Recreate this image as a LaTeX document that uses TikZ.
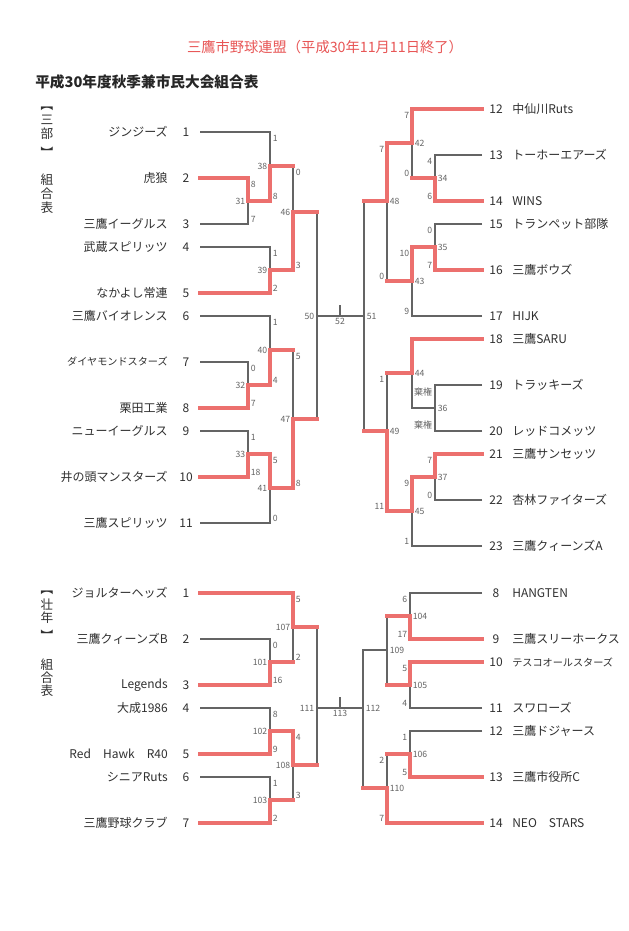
\documentclass[tikz,border=0pt]{standalone}
\usepackage{fontspec}
\setmainfont{Noto Sans CJK JP}
\usepackage{tikz}
\pgfdeclarelayer{bg}
\pgfsetlayers{bg,main}
\definecolor{winred}{RGB}{236,112,110}
\definecolor{titlered}{RGB}{232,86,86}
\definecolor{linegray}{RGB}{100,100,100}
\definecolor{inkgray}{RGB}{48,48,48}
\tikzset{
  elbow/.style={to path={-| (\tikztotarget)}},
  lose/.style={elbow, draw=linegray, line width=0.8pt},
  win/.style={elbow, draw=winred, line width=2.3pt, line cap=rect},
  adv/.style={to path={-- (\tikztotarget |- \tikztostart)}, draw=winred, line width=2.3pt, line cap=rect},
  teaml/.style={anchor=east, inner sep=0pt, text=inkgray, font=\fontsize{9}{10}\selectfont},
  teamr/.style={anchor=west, inner sep=0pt, text=inkgray, font=\fontsize{9}{10}\selectfont},
  smallname/.style={font=\fontsize{7.6}{9}\selectfont},
  num/.style={inner sep=0pt, text=inkgray, font=\fontsize{9}{10}\selectfont},
  ptl/.style={anchor=west, inner sep=0pt, xshift=1.9pt, text=linegray, font=\fontsize{6.5}{7}\selectfont},
  ptr/.style={anchor=east, inner sep=0pt, xshift=-1.9pt, text=linegray, font=\fontsize{6.5}{7}\selectfont},
  gml/.style={anchor=east, inner sep=0pt, xshift=-1.9pt, text=linegray, font=\fontsize{6.5}{7}\selectfont},
  gmr/.style={anchor=west, inner sep=0pt, xshift=1.9pt, text=linegray, font=\fontsize{6.5}{7}\selectfont},
  gmb/.style={anchor=north, inner sep=0pt, text=linegray, font=\fontsize{6.5}{7}\selectfont},
  vlab/.style={align=center, inner sep=0pt, text=inkgray},
  vbrk/.style={inner sep=0pt, rotate=-90, text=inkgray, font=\fontsize{9.5}{10}\selectfont},
}

\begin{document}
\begin{tikzpicture}[x=0.75pt, y=-0.75pt]
        \useasboundingbox (0,0) rectangle (628,931);
        % headings
        \node (title) [text=titlered, font=\fontsize{10.7}{12}\selectfont] at (325,47) {三鷹市野球連盟（平成30年11月11日終了）};
        \node (subtitle) [anchor=west, inner sep=0pt, text=black!85, font=\bfseries\fontsize{11}{12}\selectfont] at (35,82) {平成30年度秋季兼市民大会組合表};
        \node (br1) [vbrk] at (47,105) {【};
        \node (sec1) [vlab, font=\fontsize{9.5}{10.5}\selectfont] at (47,127) {三\\部};
        \node (br2) [vbrk] at (47,153) {】};
        \node (sec1b) [vlab, font=\fontsize{9.5}{10.5}\selectfont] at (47,194) {組\\合\\表};
        \node (br3) [vbrk] at (47,589) {【};
        \node (sec2) [vlab, font=\fontsize{9.5}{9.75}\selectfont] at (47,611.5) {壮\\年};
        \node (br4) [vbrk] at (47,636) {】};
        \node (sec2b) [vlab, font=\fontsize{9.5}{9.75}\selectfont] at (47,678) {組\\合\\表};

        % teams, left top
        \coordinate (a1) at (200,132);
        \coordinate (a2) at (200,178);
        \coordinate (a3) at (200,224);
        \coordinate (a4) at (200,247);
        \coordinate (a5) at (200,293);
        \coordinate (a6) at (200,316);
        \coordinate (a7) at (200,362);
        \coordinate (a8) at (200,408);
        \coordinate (a9) at (200,431);
        \coordinate (a10) at (200,477);
        \coordinate (a11) at (200,523);
        \node (n1) [teaml] at (168,132) {ジンジーズ};
        \node (n2) [teaml] at (168,178) {虎狼};
        \node (n3) [teaml] at (168,224) {三鷹イーグルス};
        \node (n4) [teaml] at (168,247) {武蔵スピリッツ};
        \node (n5) [teaml] at (168,293) {なかよし常連};
        \node (n6) [teaml] at (168,316) {三鷹バイオレンス};
        \node (n7) [teaml, smallname] at (168,362) {ダイヤモンドスターズ};
        \node (n8) [teaml] at (168,408) {栗田工業};
        \node (n9) [teaml] at (168,431) {ニューイーグルス};
        \node (n10) [teaml] at (168,477) {井の頭マンスターズ};
        \node (n11) [teaml] at (168,523) {三鷹スピリッツ};
        \node (k1) [num] at (186,132) {1};
        \node (k2) [num] at (186,178) {2};
        \node (k3) [num] at (186,224) {3};
        \node (k4) [num] at (186,247) {4};
        \node (k5) [num] at (186,293) {5};
        \node (k6) [num] at (186,316) {6};
        \node (k7) [num] at (186,362) {7};
        \node (k8) [num] at (186,408) {8};
        \node (k9) [num] at (186,431) {9};
        \node (k10) [num] at (186,477) {10};
        \node (k11) [num] at (186,523) {11};

        % teams, right top
        \coordinate (b12) at (482,109);
        \coordinate (b13) at (482,155);
        \coordinate (b14) at (482,201);
        \coordinate (b15) at (482,224);
        \coordinate (b16) at (482,270);
        \coordinate (b17) at (482,316);
        \coordinate (b18) at (482,339);
        \coordinate (b19) at (482,385);
        \coordinate (b20) at (482,431);
        \coordinate (b21) at (482,454);
        \coordinate (b22) at (482,500);
        \coordinate (b23) at (482,546);
        \node (n12) [teamr] at (512,109) {中仙川Ruts};
        \node (n13) [teamr] at (512,155) {トーホーエアーズ};
        \node (n14) [teamr] at (512,201) {WINS};
        \node (n15) [teamr] at (512,224) {トランペット部隊};
        \node (n16) [teamr] at (512,270) {三鷹ボウズ};
        \node (n17) [teamr] at (512,316) {HIJK};
        \node (n18) [teamr] at (512,339) {三鷹SARU};
        \node (n19) [teamr] at (512,385) {トラッキーズ};
        \node (n20) [teamr] at (512,431) {レッドコメッツ};
        \node (n21) [teamr] at (512,454) {三鷹サンセッツ};
        \node (n22) [teamr] at (512,500) {杏林ファイターズ};
        \node (n23) [teamr] at (512,546) {三鷹クィーンズA};
        \node (k12) [num] at (496,109) {12};
        \node (k13) [num] at (496,155) {13};
        \node (k14) [num] at (496,201) {14};
        \node (k15) [num] at (496,224) {15};
        \node (k16) [num] at (496,270) {16};
        \node (k17) [num] at (496,316) {17};
        \node (k18) [num] at (496,339) {18};
        \node (k19) [num] at (496,385) {19};
        \node (k20) [num] at (496,431) {20};
        \node (k21) [num] at (496,454) {21};
        \node (k22) [num] at (496,500) {22};
        \node (k23) [num] at (496,546) {23};

        % teams, left bottom
        \coordinate (c1) at (200,593);
        \coordinate (c2) at (200,639);
        \coordinate (c3) at (200,685);
        \coordinate (c4) at (200,708);
        \coordinate (c5) at (200,754);
        \coordinate (c6) at (200,777);
        \coordinate (c7) at (200,823);
        \node (o1) [teaml] at (168,593) {ジョルターヘッズ};
        \node (o2) [teaml] at (168,639) {三鷹クィーンズB};
        \node (o3) [teaml] at (168,685) {Legends};
        \node (o4) [teaml] at (168,708) {大成1986};
        \node (o5) [teaml] at (168,754) {Red　Hawk　R40};
        \node (o6) [teaml] at (168,777) {シニアRuts};
        \node (o7) [teaml] at (168,823) {三鷹野球クラブ};
        \node (j1) [num] at (186,593) {1};
        \node (j2) [num] at (186,639) {2};
        \node (j3) [num] at (186,685) {3};
        \node (j4) [num] at (186,708) {4};
        \node (j5) [num] at (186,754) {5};
        \node (j6) [num] at (186,777) {6};
        \node (j7) [num] at (186,823) {7};

        % teams, right bottom
        \coordinate (d8) at (482,593);
        \coordinate (d9) at (482,639);
        \coordinate (d10) at (482,662);
        \coordinate (d11) at (482,708);
        \coordinate (d12) at (482,731);
        \coordinate (d13) at (482,777);
        \coordinate (d14) at (482,823);
        \node (o8) [teamr] at (512,593) {HANGTEN};
        \node (o9) [teamr] at (512,639) {三鷹スリーホークス};
        \node (o10) [teamr, smallname] at (512,662) {テスコオールスターズ};
        \node (o11) [teamr] at (512,708) {スワローズ};
        \node (o12) [teamr] at (512,731) {三鷹ドジャース};
        \node (o13) [teamr] at (512,777) {三鷹市役所C};
        \node (o14) [teamr] at (512,823) {NEO　STARS};
        \node (j8) [num] at (496,593) {8};
        \node (j9) [num] at (496,639) {9};
        \node (j10) [num] at (496,662) {10};
        \node (j11) [num] at (496,708) {11};
        \node (j12) [num] at (496,731) {12};
        \node (j13) [num] at (496,777) {13};
        \node (j14) [num] at (496,823) {14};

        % games
        \coordinate (m31) at (248,201);
        \coordinate (m32) at (248,385);
        \coordinate (m33) at (248,454);
        \coordinate (m38) at (270,166);
        \coordinate (m39) at (270,270);
        \coordinate (m40) at (270,350);
        \coordinate (m41) at (270,488);
        \coordinate (m46) at (293,212);
        \coordinate (m47) at (293,419);
        \coordinate (m50) at (317,316);
        \coordinate (m34) at (435,178);
        \coordinate (m35) at (435,247);
        \coordinate (m36) at (435,408);
        \coordinate (m37) at (435,477);
        \coordinate (m42) at (412,143);
        \coordinate (m43) at (412,281);
        \coordinate (m44) at (412,373);
        \coordinate (m45) at (412,511);
        \coordinate (m48) at (387,201);
        \coordinate (m49) at (387,431);
        \coordinate (m51) at (364,316);
        \coordinate (m52) at (340,316);
        \coordinate (t52) at (340,305);
        \coordinate (m101) at (270,662);
        \coordinate (m102) at (270,731);
        \coordinate (m103) at (270,800);
        \coordinate (m107) at (293,627);
        \coordinate (m108) at (293,765);
        \coordinate (m111) at (317,708);
        \coordinate (m104) at (410,616);
        \coordinate (m105) at (410,685);
        \coordinate (m106) at (410,754);
        \coordinate (m109) at (387,650);
        \coordinate (m110) at (387,788);
        \coordinate (m112) at (363,708);
        \coordinate (m113) at (340,708);
        \coordinate (t113) at (340,697);

        \node (g31) [gml] at (m31) {31};
        \node (g32) [gml] at (m32) {32};
        \node (g33) [gml] at (m33) {33};
        \node (g38) [gml] at (m38) {38};
        \node (g39) [gml] at (m39) {39};
        \node (g40) [gml] at (m40) {40};
        \node (g41) [gml] at (m41) {41};
        \node (g46) [gml] at (m46) {46};
        \node (g47) [gml] at (m47) {47};
        \node (g50) [gml] at (m50) {50};
        \node (g34) [gmr] at (m34) {34};
        \node (g35) [gmr] at (m35) {35};
        \node (g36) [gmr] at (m36) {36};
        \node (g37) [gmr] at (m37) {37};
        \node (g42) [gmr] at (m42) {42};
        \node (g43) [gmr] at (m43) {43};
        \node (g44) [gmr] at (m44) {44};
        \node (g45) [gmr] at (m45) {45};
        \node (g48) [gmr] at (m48) {48};
        \node (g49) [gmr] at (m49) {49};
        \node (g51) [gmr] at (m51) {51};
        \node (g52) [gmb] at (340,318) {52};
        \node (g101) [gml] at (m101) {101};
        \node (g102) [gml] at (m102) {102};
        \node (g103) [gml] at (m103) {103};
        \node (g107) [gml] at (m107) {107};
        \node (g108) [gml] at (m108) {108};
        \node (g111) [gml] at (m111) {111};
        \node (g104) [gmr] at (m104) {104};
        \node (g105) [gmr] at (m105) {105};
        \node (g106) [gmr] at (m106) {106};
        \node (g109) [gmr] at (m109) {109};
        \node (g110) [gmr] at (m110) {110};
        \node (g112) [gmr] at (m112) {112};
        \node (g113) [gmb] at (340,710) {113};

        % scores
        \node (p38a) [ptl] at (270,138) {1};
        \node (p38b) [ptl] at (270,196) {8};
        \node (p31a) [ptl] at (248,184) {8};
        \node (p31b) [ptl] at (248,219) {7};
        \node (p46a) [ptl] at (293,172) {0};
        \node (p46b) [ptl] at (293,265) {3};
        \node (p39a) [ptl] at (270,253) {1};
        \node (p39b) [ptl] at (270,288) {2};
        \node (p40a) [ptl] at (270,322) {1};
        \node (p40b) [ptl] at (270,380) {4};
        \node (p32a) [ptl] at (248,368) {0};
        \node (p32b) [ptl] at (248,403) {7};
        \node (p33a) [ptl] at (248,437) {1};
        \node (p33b) [ptl] at (248,472) {18};
        \node (p41a) [ptl] at (270,460) {5};
        \node (p41b) [ptl] at (270,518) {0};
        \node (p47a) [ptl] at (293,356) {5};
        \node (p47b) [ptl] at (293,483) {8};
        \node (p42a) [ptr] at (412,115) {7};
        \node (p42b) [ptr] at (412,173) {0};
        \node (p34a) [ptr] at (435,161) {4};
        \node (p34b) [ptr] at (435,196) {6};
        \node (p35a) [ptr] at (435,230) {0};
        \node (p35b) [ptr] at (435,265) {7};
        \node (p43a) [ptr] at (412,253) {10};
        \node (p43b) [ptr] at (412,311) {9};
        \node (p48a) [ptr] at (387,149) {7};
        \node (p48b) [ptr] at (387,276) {0};
        \node (p36a) [ptr, font=\fontsize{6.8}{7}\selectfont] at (435,392) {棄権};
        \node (p36b) [ptr, font=\fontsize{6.8}{7}\selectfont] at (435,425) {棄権};
        \node (p37a) [ptr] at (435,460) {7};
        \node (p37b) [ptr] at (435,495) {0};
        \node (p45a) [ptr] at (412,483) {9};
        \node (p45b) [ptr] at (412,541) {1};
        \node (p49a) [ptr] at (387,379) {1};
        \node (p49b) [ptr] at (387,506) {11};
        \node (p107a) [ptl] at (293,599) {5};
        \node (p107b) [ptl] at (293,657) {2};
        \node (p101a) [ptl] at (270,645) {0};
        \node (p101b) [ptl] at (270,680) {16};
        \node (p102a) [ptl] at (270,714) {8};
        \node (p102b) [ptl] at (270,749) {9};
        \node (p103a) [ptl] at (270,783) {1};
        \node (p103b) [ptl] at (270,818) {2};
        \node (p108a) [ptl] at (293,737) {4};
        \node (p108b) [ptl] at (293,795) {3};
        \node (p104a) [ptr] at (410,599) {6};
        \node (p104b) [ptr] at (410,634) {17};
        \node (p105a) [ptr] at (410,668) {5};
        \node (p105b) [ptr] at (410,703) {4};
        \node (p106a) [ptr] at (410,737) {1};
        \node (p106b) [ptr] at (410,772) {5};
        \node (p110a) [ptr] at (387,760) {2};
        \node (p110b) [ptr] at (387,818) {7};

        \begin{pgfonlayer}{bg}
                \fill[white] (0,0) rectangle (628,931);
                \draw (a1) edge [lose] (m38);
                \draw (a3) edge [lose] (m31);
                \draw (m38) edge [lose] (m46);
                \draw (a4) edge [lose] (m39);
                \draw (a6) edge [lose] (m40);
                \draw (a7) edge [lose] (m32);
                \draw (a9) edge [lose] (m33);
                \draw (a11) edge [lose] (m41);
                \draw (m40) edge [lose] (m47);
                \draw (m46) edge [lose] (m50);
                \draw (m47) edge [lose] (m50);
                \draw (m50) edge [lose] (m52);
                \draw (m34) edge [lose] (m42);
                \draw (b13) edge [lose] (m34);
                \draw (b15) edge [lose] (m35);
                \draw (b17) edge [lose] (m43);
                \draw (m43) edge [lose] (m48);
                \draw (m36) edge [lose] (m44);
                \draw (b19) edge [lose] (m36);
                \draw (b20) edge [lose] (m36);
                \draw (b22) edge [lose] (m37);
                \draw (b23) edge [lose] (m45);
                \draw (m44) edge [lose] (m49);
                \draw (m48) edge [lose] (m51);
                \draw (m49) edge [lose] (m51);
                \draw (m51) edge [lose] (m52);
                \draw (m52) edge [lose] (t52);
                \draw (m101) edge [lose] (m107);
                \draw (c2) edge [lose] (m101);
                \draw (c4) edge [lose] (m102);
                \draw (c6) edge [lose] (m103);
                \draw (m103) edge [lose] (m108);
                \draw (m107) edge [lose] (m111);
                \draw (m108) edge [lose] (m111);
                \draw (m111) edge [lose] (m113);
                \draw (d8) edge [lose] (m104);
                \draw (d11) edge [lose] (m105);
                \draw (d12) edge [lose] (m106);
                \draw (m104) edge [lose] (m109);
                \draw (m105) edge [lose] (m109);
                \draw (m106) edge [lose] (m110);
                \draw (m109) edge [lose] (m112);
                \draw (m110) edge [lose] (m112);
                \draw (m112) edge [lose] (m113);
                \draw (m113) edge [lose] (t113);
        \end{pgfonlayer}

        % winners
        \draw (a2) edge [win] (m31);
        \draw (m31) edge [win] (m38);
        \draw (m38) edge [adv] (m46);
        \draw (a5) edge [win] (m39);
        \draw (m39) edge [win] (m46);
        \draw (a8) edge [win] (m32);
        \draw (m32) edge [win] (m40);
        \draw (a10) edge [win] (m33);
        \draw (m33) edge [win] (m41);
        \draw (m40) edge [adv] (m47);
        \draw (m41) edge [win] (m47);
        \draw (m46) edge [adv] (m50);
        \draw (m47) edge [adv] (m50);
        \draw (b12) edge [win] (m42);
        \draw (b14) edge [win] (m34);
        \draw (m34) edge [adv] (m42);
        \draw (b16) edge [win] (m35);
        \draw (m35) edge [win] (m43);
        \draw (m42) edge [win] (m48);
        \draw (m43) edge [adv] (m48);
        \draw (b18) edge [win] (m44);
        \draw (b21) edge [win] (m37);
        \draw (m37) edge [win] (m45);
        \draw (m44) edge [adv] (m49);
        \draw (m45) edge [win] (m49);
        \draw (m48) edge [adv] (m51);
        \draw (m49) edge [adv] (m51);
        \draw (c1) edge [win] (m107);
        \draw (m101) edge [adv] (m107);
        \draw (c3) edge [win] (m101);
        \draw (c5) edge [win] (m102);
        \draw (c7) edge [win] (m103);
        \draw (m102) edge [win] (m108);
        \draw (m103) edge [adv] (m108);
        \draw (m107) edge [adv] (m111);
        \draw (m108) edge [adv] (m111);
        \draw (d9) edge [win] (m104);
        \draw (d10) edge [win] (m105);
        \draw (d13) edge [win] (m106);
        \draw (m104) edge [adv] (m109);
        \draw (m105) edge [adv] (m109);
        \draw (m106) edge [adv] (m110);
        \draw (d14) edge [win] (m110);
        \draw (m110) edge [adv] (m112);
\end{tikzpicture}
\end{document}
